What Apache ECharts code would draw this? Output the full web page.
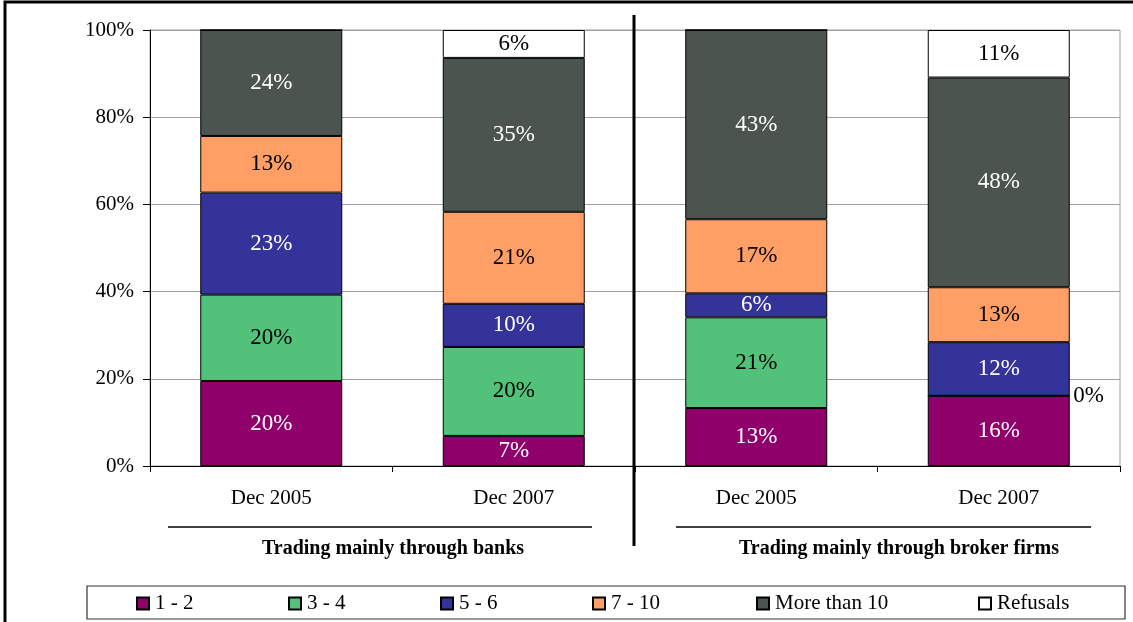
<!DOCTYPE html>
<html>
<head>
<meta charset="utf-8">
<script src="https://cdn.jsdelivr.net/npm/echarts@6/dist/echarts.min.js"></script>
<style>
  html, body { margin: 0; padding: 0; background: #fff; }
  #chart { width: 1133px; height: 622px; }
</style>
</head>
<body>
<div id="chart"></div>
<script>
const categories = ['Dec 2005', 'Dec 2007', 'Dec 2005', 'Dec 2007'];
const groups = ['Trading mainly through banks', 'Trading mainly through broker firms'];

// share of respondents, % (banks 2005, banks 2007, brokers 2005, brokers 2007)
const s12 = [19.5, 6.9, 13.3, 16.1];
const s34 = [19.8, 20.4, 20.8, 0];
const s56 = [23.4, 9.9, 5.5, 12.3];
const s710 = [13.0, 21.1, 17.0, 12.6];
const sMore10 = [24.3, 35.3, 43.4, 48.1];
const sRefusals = [0, 6.4, 0, 10.9];

const yTicks = [0, 20, 40, 60, 80, 100];

const FONT = '"Liberation Serif", "Times New Roman", serif';

const seriesDefs = [
  {name: '1 - 2', data: s12, color: '#8f006b', text: '#fff'},
  {name: '3 - 4', data: s34, color: '#52c27a', text: '#000'},
  {name: '5 - 6', data: s56, color: '#333399', text: '#fff'},
  {name: '7 - 10', data: s710, color: '#ff9f66', text: '#000'},
  {name: 'More than 10', data: sMore10, color: '#4b544e', text: '#fff'},
  {name: 'Refusals', data: sRefusals, color: '#ffffff', text: '#000'}
];

// legend item left positions
const legendLeft = [136, 288, 440, 592, 756, 978];

const chart = echarts.init(document.getElementById('chart'));

const series = seriesDefs.map(function (d) {
  return {
    name: d.name,
    type: 'bar',
    stack: 'total',
    barWidth: 142,
    itemStyle: {color: d.color, borderColor: '#000', borderWidth: 1},
    label: {
      show: true,
      position: 'inside',
      color: d.text,
      fontFamily: FONT,
      fontSize: 23,
      formatter: function (p) { return Math.round(p.value) + '%'; }
    },
    data: d.data.map(function (v, i) {
      if (v > 0) return v;
      // the zero 3-4 share for brokers 2007 is labelled beside the bar
      if (d.name === '3 - 4' && i === 3) {
        return {value: v, label: {show: true, position: 'right', distance: 3, color: '#000'}};
      }
      return {value: v, label: {show: false}};
    })
  };
});

const option = {
  animation: false,
  backgroundColor: '#fff',
  grid: {
    left: 150, right: 13, top: 30, bottom: 156,
    show: true, borderColor: '#a0a0a0', borderWidth: 1
  },
  xAxis: {
    type: 'category',
    data: categories,
    axisLine: {lineStyle: {color: '#000', width: 1}},
    axisTick: {show: true, length: 6, lineStyle: {color: '#000'}},
    axisLabel: {color: '#000', fontFamily: FONT, fontSize: 21, margin: 22}
  },
  yAxis: {
    type: 'value',
    min: yTicks[0],
    max: yTicks[yTicks.length - 1],
    interval: 20,
    axisLine: {show: true, lineStyle: {color: '#000', width: 1}},
    axisTick: {show: true, length: 7, lineStyle: {color: '#000'}},
    axisLabel: {color: '#000', fontFamily: FONT, fontSize: 21, margin: 16, formatter: '{value}%'},
    splitLine: {lineStyle: {color: '#a0a0a0', width: 1}}
  },
  legend: seriesDefs.map(function (d, i) {
    return {
      data: [d.name],
      left: legendLeft[i],
      top: 593,
      padding: 0,
      icon: 'rect',
      itemWidth: 12,
      itemHeight: 12,
      itemGap: 6,
      selectedMode: false,
      textStyle: {color: '#000', fontFamily: FONT, fontSize: 21, padding: [0, 0, 0, 1]}
    };
  }),
  graphic: [
    // outer frame
    {type: 'rect', shape: {x: 5, y: 2, width: 1140, height: 640},
      style: {fill: 'none', stroke: '#000', lineWidth: 3}, silent: true},
    // legend box
    {type: 'rect', shape: {x: 87, y: 586, width: 1038, height: 33},
      style: {fill: 'none', stroke: '#333', lineWidth: 1.2}, silent: true},
    // divider between the two groups
    {type: 'line', shape: {x1: 634, y1: 15, x2: 634, y2: 546},
      style: {stroke: '#000', lineWidth: 3}, z: 10, silent: true},
    // group underlines
    {type: 'line', shape: {x1: 168, y1: 527, x2: 592, y2: 527},
      style: {stroke: '#000', lineWidth: 1.3}, silent: true},
    {type: 'line', shape: {x1: 676, y1: 527, x2: 1091, y2: 527},
      style: {stroke: '#000', lineWidth: 1.3}, silent: true},
    {type: 'text', x: 393, y: 549, silent: true,
      style: {text: groups[0], fill: '#000', font: 'bold 20px ' + FONT, textAlign: 'center', textVerticalAlign: 'middle'}},
    {type: 'text', x: 899, y: 549, silent: true,
      style: {text: groups[1], fill: '#000', font: 'bold 20px ' + FONT, textAlign: 'center', textVerticalAlign: 'middle'}}
  ],
  series: series
};

chart.setOption(option);
</script>
</body>
</html>
